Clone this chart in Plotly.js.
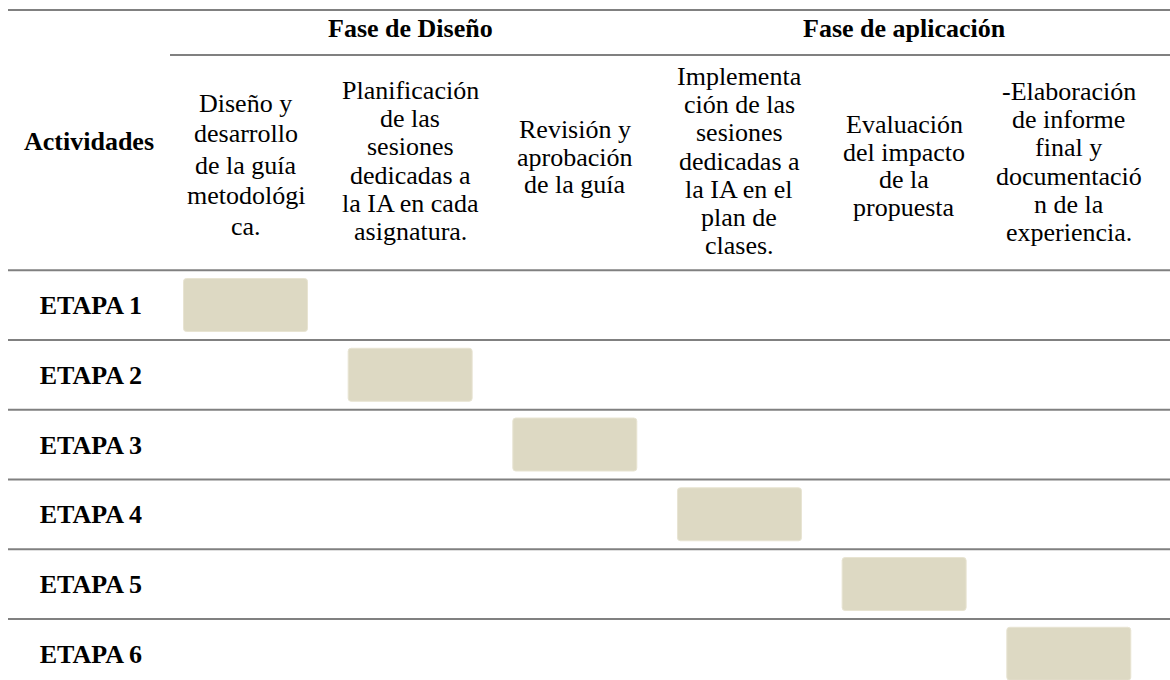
<!DOCTYPE html>
<html>
<head>
<meta charset="utf-8">
<script src="https://cdn.plot.ly/plotly-3.0.1.min.js"></script>
<style>html,body{margin:0;padding:0;background:#fff;}#chart{width:1170px;height:680px;}</style>
</head>
<body>
<div id="chart"></div>
<script>
// ---- data ----
const rowHeader = "Actividades";
const phases = ["Fase de Diseño", "Fase de aplicación"];
const phaseColumns = [[0, 1, 2], [3, 4, 5]];
const activityLines = [
  ["Diseño y", "desarrollo", "de la guía", "metodológi", "ca."],
  ["Planificación", "de las", "sesiones", "dedicadas a", "la IA en cada", "asignatura."],
  ["Revisión y", "aprobación", "de la guía"],
  ["Implementa", "ción de las", "sesiones", "dedicadas a", "la IA en el", "plan de", "clases."],
  ["Evaluación", "del impacto", "de la", "propuesta"],
  ["-Elaboración", "de informe", "final y", "documentació", "n de la", "experiencia."]
];
const stages = ["ETAPA 1", "ETAPA 2", "ETAPA 3", "ETAPA 4", "ETAPA 5", "ETAPA 6"];
const stageActivity = [0, 1, 2, 3, 4, 5];

// ---- layout / style ----
const W = 1170, H = 680, ML = 170;
const X_RANGE = [-0.4585, 5.6146];
const Y_RANGE = [5.376, -4.373];
const BAR_HALF = 0.3765;
const FONT = "'Liberation Serif', 'Times New Roman', serif";
const FS = 26;
const LINE_COLOR = "#808080";
const BAR_COLOR = "#DDD9C3";
// per-column header text block centre and line pitch (px)
const HEADER_CENTER = [165, 161, 157, 161, 166, 162];
const LINE_STEP = [31, 28.2, 27.5, 28.2, 27.5, 28.2];

const pxToPaperX = px => (px - ML) / (W - ML);
const pxToPaperY = px => 1 - px / H;
const catToPaperY = v => (Y_RANGE[0] - v) / (Y_RANGE[0] - Y_RANGE[1]);

const trace = {
  type: "bar",
  orientation: "h",
  y: stages,
  base: stageActivity.map(a => a - BAR_HALF),
  x: stageActivity.map(() => 2 * BAR_HALF),
  marker: { color: BAR_COLOR, cornerradius: 3, line: { color: "#E8E4D2", width: 1 } },
  hoverinfo: "skip",
  showlegend: false
};

const shapes = [];
const hline = (x0, x1, y) => shapes.push({
  type: "line", xref: "paper", yref: "paper", x0, x1, y0: y, y1: y,
  line: { color: LINE_COLOR, width: 2 }, layer: "above"
});
hline(pxToPaperX(8), 1, pxToPaperY(10));
hline(0, 1, pxToPaperY(55));
for (let i = 0; i <= stages.length; i++) {
  hline(pxToPaperX(8), 1, catToPaperY(i - 0.5));
}

const annotations = [];
activityLines.forEach((lines, col) => {
  const n = lines.length;
  lines.forEach((t, j) => {
    annotations.push({
      xref: "x", yref: "paper", x: col,
      y: pxToPaperY(HEADER_CENTER[col] + (j - (n - 1) / 2) * LINE_STEP[col]),
      text: t, showarrow: false, xanchor: "center", yanchor: "middle",
      font: { family: FONT, size: FS, color: "#000" }
    });
  });
});
phases.forEach((p, i) => {
  const cols = phaseColumns[i];
  annotations.push({
    xref: "x", yref: "paper",
    x: cols.reduce((a, b) => a + b, 0) / cols.length,
    y: pxToPaperY(29), text: "<b>" + p + "</b>", showarrow: false,
    xanchor: "center", yanchor: "middle",
    font: { family: FONT, size: FS, color: "#000" }
  });
});
annotations.push({
  xref: "paper", yref: "paper", x: pxToPaperX(89), y: pxToPaperY(141),
  text: "<b>" + rowHeader + "</b>", showarrow: false, xanchor: "center", yanchor: "middle",
  font: { family: FONT, size: FS, color: "#000" }
});

const layout = {
  width: W, height: H,
  margin: { l: ML, r: 0, t: 0, b: 0, pad: 0 },
  paper_bgcolor: "#fff", plot_bgcolor: "#fff",
  bargap: 0.24,
  xaxis: { range: X_RANGE, showgrid: false, zeroline: false, showticklabels: false, ticks: "", showline: false, fixedrange: true },
  yaxis: {
    type: "category", range: Y_RANGE, showgrid: false, zeroline: false, showline: false,
    ticks: "", ticklabelstandoff: 27,
    tickfont: { family: FONT, size: FS, color: "#000", weight: "bold" }, fixedrange: true
  },
  shapes, annotations,
  font: { family: FONT }
};

Plotly.newPlot("chart", [trace], layout, { displayModeBar: false, staticPlot: true });
</script>
</body>
</html>
